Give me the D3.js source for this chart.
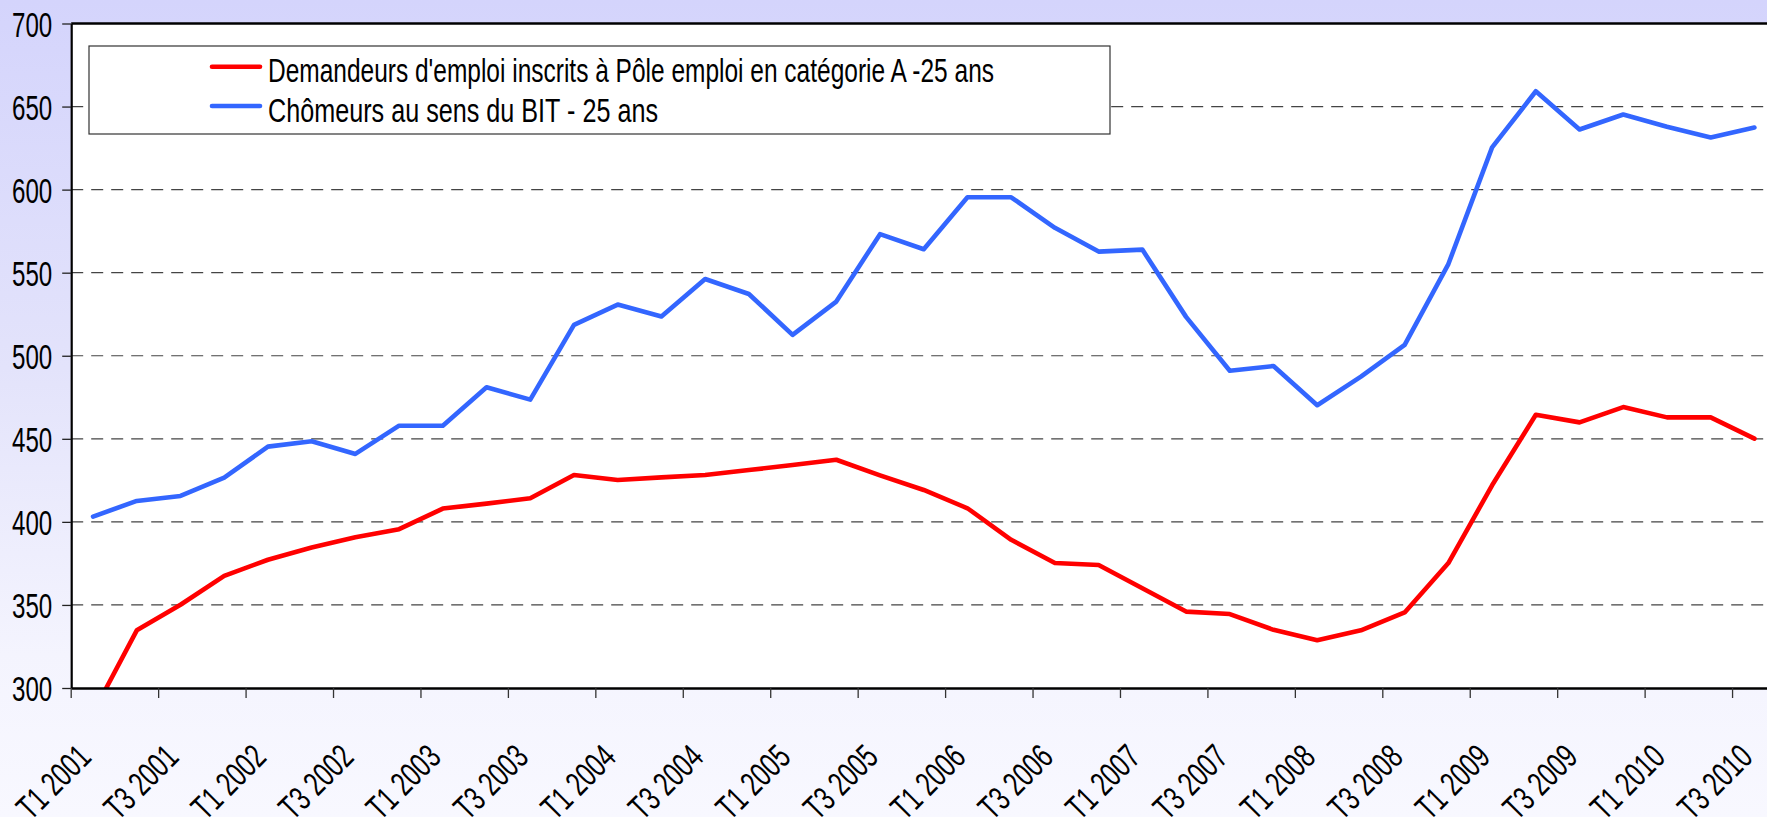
<!DOCTYPE html>
<html>
<head>
<meta charset="utf-8">
<script src="https://cdn.jsdelivr.net/npm/d3@7"></script>
<style>
  body { margin: 0; background: #f8f8ff; }
  svg { display: block; }
  text { font-family: "Liberation Sans", Arial, sans-serif; fill: #000; }
</style>
</head>
<body>
<div class="chart"></div>
<script>
const width = 1767;
const height = 817;
const plotLeft = 71.2;
const plotTop = 23.5;
const plotBottom = 688;
const step = 43.72; // width of one quarter

// data
const quarters = [
    'T1 2001', 'T2 2001', 'T3 2001', 'T4 2001',
    'T1 2002', 'T2 2002', 'T3 2002', 'T4 2002',
    'T1 2003', 'T2 2003', 'T3 2003', 'T4 2003',
    'T1 2004', 'T2 2004', 'T3 2004', 'T4 2004',
    'T1 2005', 'T2 2005', 'T3 2005', 'T4 2005',
    'T1 2006', 'T2 2006', 'T3 2006', 'T4 2006',
    'T1 2007', 'T2 2007', 'T3 2007', 'T4 2007',
    'T1 2008', 'T2 2008', 'T3 2008', 'T4 2008',
    'T1 2009', 'T2 2009', 'T3 2009', 'T4 2009',
    'T1 2010', 'T2 2010', 'T3 2010'
];
const xLabels = [
    'T1 2001', 'T3 2001', 'T1 2002', 'T3 2002', 'T1 2003', 'T3 2003',
    'T1 2004', 'T3 2004', 'T1 2005', 'T3 2005', 'T1 2006', 'T3 2006',
    'T1 2007', 'T3 2007', 'T1 2008', 'T3 2008', 'T1 2009', 'T3 2009',
    'T1 2010', 'T3 2010'
];
const yTicks = [300, 350, 400, 450, 500, 550, 600, 650, 700];

const demandeurs = [
    285, 334.7, 350.1, 367.5, 377.2, 384.6, 390.8, 395.6, 408, 411,
    414.2, 428.2, 425.2, 426.8, 428.2, 431.2, 434.2, 437.4, 428, 419.2,
    408.2, 389.2, 375.2, 374, 360, 346, 344.5, 335, 328.7, 334.7,
    345.5, 375.2, 422, 464.5, 459.9, 469.1, 462.9, 462.9, 450.1
];
const chomeursBIT = [
    403.2, 412.6, 415.6, 426.7, 445.3, 448.5, 440.9, 457.9, 457.9, 481,
    473.6, 518.6, 530.8, 523.6, 546.2, 537.2, 512.6, 532.6, 573.2, 564.1,
    595.4, 595.4, 577, 562.7, 563.9, 523.4, 491, 493.8, 470.2, 487.4,
    506.5, 555.2, 625.4, 659.2, 636.2, 645.2, 637.8, 631.4, 637.4
];
const seriesNames = [
    "Demandeurs d'emploi inscrits à Pôle emploi en catégorie A -25 ans",
    'Chômeurs au sens du BIT - 25 ans'
];
const seriesColors = ['#ff0000', '#3366ff'];

const svg = d3.select('.chart').append('svg')
    .attr('width', width)
    .attr('height', height);

/* background */
const defs = svg.append('defs');
const grad = defs.append('linearGradient').attr('id', 'bg')
    .attr('x1', 0).attr('y1', 0).attr('x2', 0).attr('y2', 1);
grad.append('stop').attr('offset', '0%').attr('stop-color', '#d4d4fc');
grad.append('stop').attr('offset', '45%').attr('stop-color', '#e3e3fb');
grad.append('stop').attr('offset', '80%').attr('stop-color', '#f4f4fe');
grad.append('stop').attr('offset', '100%').attr('stop-color', '#f8f8ff');
svg.append('rect').attr('width', width).attr('height', height).attr('fill', 'url(#bg)');

/* scales */
const x = d3.scaleBand()
    .domain(quarters)
    .range([plotLeft, plotLeft + quarters.length * step]);
const y = d3.scaleLinear()
    .domain([300, 700])
    .range([plotBottom, plotTop]);
const bw = x.bandwidth();
const [x0, x1] = x.range();

/* plot area */
svg.append('rect')
    .attr('x', x0).attr('y', y(700))
    .attr('width', x1 - x0).attr('height', y(300) - y(700))
    .attr('fill', '#fff');

defs.append('clipPath').attr('id', 'plotClip')
    .append('rect')
    .attr('x', x0).attr('y', y(700))
    .attr('width', x1 - x0).attr('height', y(300) - y(700));

/* dashed gridlines */
svg.append('g').selectAll('line')
    .data(yTicks.filter(d => d > 300 && d < 700))
    .enter().append('line')
    .attr('x1', x0).attr('x2', x1)
    .attr('y1', d => y(d)).attr('y2', d => y(d))
    .attr('stroke', '#444')
    .attr('stroke-width', 1.2)
    .attr('stroke-dasharray', '12,8');

/* top border */
svg.append('line')
    .attr('x1', x0).attr('x2', x1)
    .attr('y1', y(700)).attr('y2', y(700))
    .attr('stroke', '#000').attr('stroke-width', 2.5);

/* lines */
const line = d3.line()
    .x((d, i) => x(quarters[i]) + bw / 2)
    .y(d => y(d));
const lines = svg.append('g').attr('clip-path', 'url(#plotClip)');
[demandeurs, chomeursBIT].forEach((s, k) => {
    lines.append('path')
        .datum(s)
        .attr('d', line)
        .attr('fill', 'none')
        .attr('stroke', seriesColors[k])
        .attr('stroke-width', 4.6)
        .attr('stroke-linejoin', 'round')
        .attr('stroke-linecap', 'round');
});

/* y axis */
const yAxis = svg.append('g')
    .attr('transform', `translate(${x0},0)`)
    .call(d3.axisLeft(y).tickValues(yTicks).tickSize(9).tickSizeOuter(0));
yAxis.select('.domain').attr('stroke', '#000').attr('stroke-width', 2.2);
yAxis.selectAll('.tick line').attr('stroke', '#222').attr('stroke-width', 1.3);
yAxis.selectAll('.tick text')
    .attr('x', null).attr('dy', null)
    .attr('transform', 'translate(-19,12.5) scale(0.67,1)')
    .attr('text-anchor', 'end')
    .style('font-size', '36px')
    .style('font-family', '"Liberation Sans", Arial, sans-serif')
    .attr('fill', '#000');

/* x axis: ticks between pairs of quarters */
const xAxis = svg.append('g')
    .attr('transform', `translate(0,${y(300)})`)
    .call(d3.axisBottom(x).tickValues(xLabels).tickSize(10).tickSizeOuter(0).tickFormat(''));
xAxis.selectAll('.tick').attr('transform', d => `translate(${x(d)},0)`);
xAxis.select('.domain').attr('stroke', '#000').attr('stroke-width', 2.6);
xAxis.selectAll('.tick line').attr('stroke', '#333').attr('stroke-width', 1.3);

svg.append('g').selectAll('text')
    .data(xLabels)
    .enter().append('text')
    .attr('transform', d => `translate(${x(d) + bw / 2},759) rotate(-45) scale(0.71,1)`)
    .attr('text-anchor', 'end')
    .style('font-size', '34px')
    .text(d => d);

/* legend */
const legend = svg.append('g');
legend.append('rect')
    .attr('x', 89).attr('y', 46)
    .attr('width', 1021).attr('height', 88)
    .attr('fill', '#fff')
    .attr('stroke', '#333').attr('stroke-width', 1.2);
const legendY = [66.7, 106];
const legendW = [726, 390];
seriesNames.forEach((name, k) => {
    legend.append('line')
        .attr('x1', 212).attr('x2', 260)
        .attr('y1', legendY[k]).attr('y2', legendY[k])
        .attr('stroke', seriesColors[k])
        .attr('stroke-width', 4.6)
        .attr('stroke-linecap', 'round');
    legend.append('text')
        .attr('x', 268).attr('y', legendY[k] + 15.5)
        .attr('textLength', legendW[k])
        .attr('lengthAdjust', 'spacingAndGlyphs')
        .style('font-size', '34px')
        .text(name);
});
</script>
</body>
</html>
